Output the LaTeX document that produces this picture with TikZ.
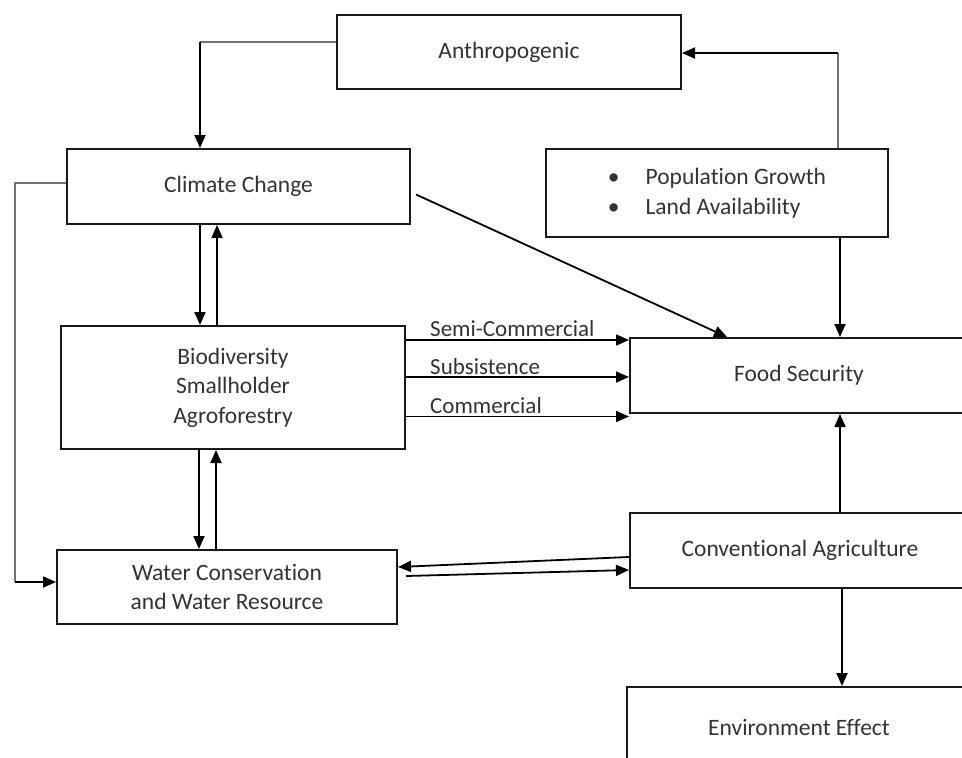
\documentclass[tikz,border=0pt]{standalone}
\usepackage{fontspec}
\setmainfont{Carlito}[Ligatures=NoCommon]
\usetikzlibrary{arrows.meta}

\begin{document}
\begin{tikzpicture}[x=1pt,y=-1pt,
  box/.style={draw=black!90,line width=2pt,inner sep=0pt,align=center,text=black!80,font=\fontsize{23.5}{29.5}\selectfont},
  arr/.style={draw=black,line width=1.8pt,-{Triangle[length=13pt,width=11pt]}},
  thinline/.style={draw=black!55,line width=1.2pt},
  lbl/.style={inner sep=0pt,anchor=base west,text=black!80,font=\fontsize{23}{26}\selectfont}]
% 962 x 758 px, boxes on the right run off the page
\clip (0,0) rectangle (962,758);
\fill[white] (0,0) rectangle (962,758);

% boxes
\node[box,minimum width=344pt,minimum height=74pt] (anth) at (509,52) {Anthropogenic};
\node[box,minimum width=343pt,minimum height=75pt] (clim) at (238.5,186.5) {Climate Change};
\node[box,align=left,minimum width=342pt,minimum height=88pt] (pop) at (717,193)
  {\textbullet\hspace{26pt}Population Growth\\ \textbullet\hspace{26pt}Land Availability};
\node[box,minimum width=344pt,minimum height=123pt] (bio) at (233,387.5)
  {Biodiversity\\ Smallholder\\ Agroforestry};
\node[box,minimum width=338pt,minimum height=75pt] (food) at (799,375.5) {Food Security};
\node[box,minimum width=340pt,minimum height=75pt] (conv) at (800,550.5) {Conventional Agriculture};
\node[box,minimum width=340pt,minimum height=74pt] (water) at (227,587)
  {Water Conservation\\ and Water Resource};
\node[box,minimum width=344pt,minimum height=80pt] (env) at (799,727) {Environment Effect};

% corners of the elbow lines
\coordinate (k1) at (200,42);
\coordinate (k2) at (15,582);
\coordinate (k3) at (838,53);

% anthropogenic -> climate change
\draw[thinline] ([yshift=10pt]anth.west) -- (k1);
\draw[arr] (k1) -- (k1 |- clim.north);

% population -> anthropogenic
\draw[thinline] (pop.north -| k3) -- (k3);
\draw[arr] (k3) -- (k3 -| anth.east);

% climate change -> water
\draw[thinline] ([yshift=3.5pt]clim.west) -| (k2);
\draw[arr] (k2) -- (k2 -| water.west);

% climate change <-> biodiversity
\draw[arr] ([xshift=-38.5pt]clim.south) -- ([xshift=-38.5pt]clim.south |- bio.north);
\draw[arr] ([xshift=-21.5pt]bio.north -| clim.south) -- ([xshift=-21.5pt]clim.south);

% biodiversity <-> water
\draw[arr] ([xshift=-34pt]bio.south) -- ([xshift=-34pt]bio.south |- water.north);
\draw[arr] ([xshift=-17pt]bio.south |- water.north) -- ([xshift=-17pt]bio.south);

% into food security
\draw[arr] ([xshift=5pt,yshift=-8pt]clim.east) -- ([xshift=-72pt]food.north);
\draw[arr] ([xshift=123pt]pop.south) -- ([xshift=123pt]pop.south |- food.north);
\draw[arr] ([yshift=47.5pt]bio.east) -- ([yshift=47.5pt]bio.east -| food.west);
\draw[arr] ([yshift=10.5pt]bio.east) -- ([yshift=10.5pt]bio.east -| food.west);
\draw[arr] ([yshift=-29pt]bio.east) -- ([yshift=-29pt]bio.east -| food.west);
\node[lbl] (lsemi) at ([xshift=24pt,yshift=51.5pt]bio.east) {Semi-Commercial};
\node[lbl] (lsub) at ([xshift=24pt,yshift=13.5pt]bio.east) {Subsistence};
\node[lbl] (lcom) at ([xshift=24pt,yshift=-25.5pt]bio.east) {Commercial};
\draw[arr] ([xshift=40pt]conv.north) -- ([xshift=40pt]conv.north |- food.south);

% conventional agriculture <-> water, environment
\draw[arr] ([yshift=-6.5pt]conv.west) -- ([yshift=20pt]water.east);
\draw[arr] ([xshift=8pt,yshift=11pt]water.east) -- ([yshift=-19.5pt]conv.west);
\draw[arr] ([xshift=42pt]conv.south) -- ([xshift=42pt]conv.south |- env.north);
\end{tikzpicture}
\end{document}
